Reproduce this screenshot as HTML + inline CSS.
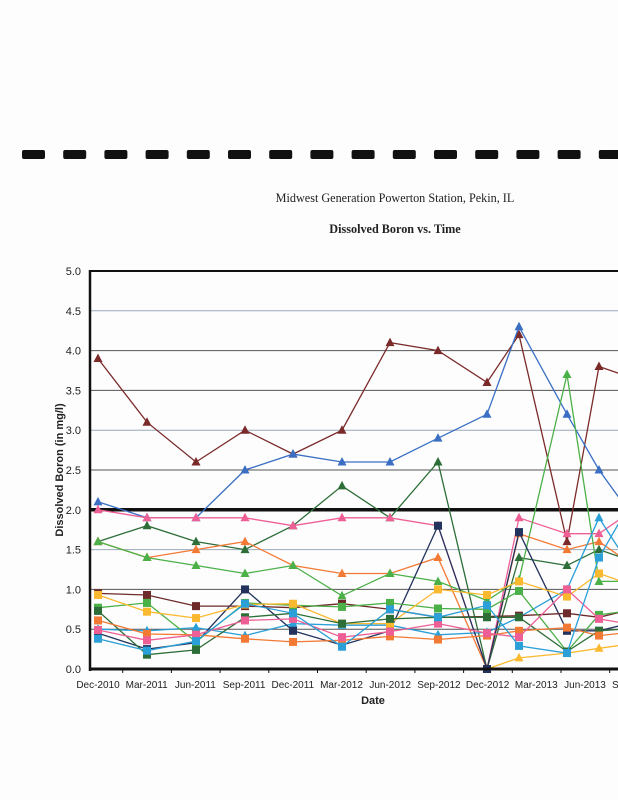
<!DOCTYPE html>
<html><head><meta charset="utf-8"><style>
html,body{margin:0;padding:0;background:#fff;width:618px;height:800px;overflow:hidden}
</style></head><body>
<svg id="s" width="618" height="800" xmlns="http://www.w3.org/2000/svg" style="position:absolute;left:0;top:0">
<rect width="618" height="800" fill="#fdfdfd"/>
<g id="dash" fill="#111"></g>
<text x="395" y="202" font-family="Liberation Serif, serif" font-size="12.2" text-anchor="middle" fill="#222">Midwest Generation Powerton Station, Pekin, IL</text>
<text x="395" y="233" font-family="Liberation Serif, serif" font-size="12.2" font-weight="bold" text-anchor="middle" fill="#222">Dissolved Boron vs. Time</text>
<g id="grid"></g>
<g id="series"></g>
<g id="axes"></g>
<text x="373" y="704" font-family="Liberation Sans, sans-serif" font-size="11" font-weight="bold" text-anchor="middle" fill="#222">Date</text>
<text transform="translate(63,470) rotate(-90)" font-family="Liberation Sans, sans-serif" font-size="11" font-weight="bold" text-anchor="middle" fill="#222">Dissolved Boron (in mg/l)</text>
</svg>
<script>
var NS="http://www.w3.org/2000/svg";
function el(p,t,a){var e=document.createElementNS(NS,t);for(var k in a)e.setAttribute(k,a[k]);document.getElementById(p).appendChild(e);return e;}
for(var i=0;i<15;i++){el("dash","rect",{x:22+i*41.2,y:150,width:23,height:9,rx:2});}
function Y(v){return 669-v*79.6;}
for(var k=1;k<=9;k++){var v=k*0.5;var c=(k==3||k==9||k==6)?"#9ab":"#555";
 if(k==4){el("grid","line",{x1:90,x2:618,y1:Y(v),y2:Y(v),stroke:"#111","stroke-width":3.5});}
 else el("grid","line",{x1:90,x2:618,y1:Y(v),y2:Y(v),stroke:c,"stroke-width":1});}
el("axes","line",{x1:90,x2:618,y1:Y(5),y2:Y(5),stroke:"#111","stroke-width":2});
el("axes","line",{x1:90,x2:90,y1:Y(5)-1,y2:Y(0)+2,stroke:"#111","stroke-width":2.5});
el("axes","line",{x1:90,x2:618,y1:Y(0),y2:Y(0),stroke:"#111","stroke-width":3});
for(var k=0;k<=10;k++){var t=el("axes","text",{x:81,y:Y(k*0.5)+4,"font-family":"Liberation Sans, sans-serif","font-size":"11","text-anchor":"end",fill:"#222"});t.textContent=(k*0.5).toFixed(1);}
var labs=["Dec-2010","Mar-2011","Jun-2011","Sep-2011","Dec-2011","Mar-2012","Jun-2012","Sep-2012","Dec-2012","Mar-2013","Jun-2013","Sep-2013"];
for(var i=0;i<labs.length;i++){var x=98+i*48.7;var t=el("axes","text",{x:x,y:688,"font-family":"Liberation Sans, sans-serif","font-size":"10","text-anchor":"middle",fill:"#222"});t.textContent=labs[i];
 if(i>0)el("axes","line",{x1:x-24,x2:x-24,y1:669,y2:673,stroke:"#111"});}
var X=[98,147,196,245,293,342,390,438,487,519,567,599,622];
var S=[
["#7b2a2a","t",[3.9,3.1,2.6,3.0,2.7,3.0,4.1,4.0,3.6,4.2,1.6,3.8,3.7]],
["#3a6fc4","t",[2.1,1.9,1.9,2.5,2.7,2.6,2.6,2.9,3.2,4.3,3.2,2.5,2.1]],
["#2d6e38","t",[1.6,1.8,1.6,1.5,1.8,2.3,1.9,2.6,0.0,1.4,1.3,1.5,1.4]],
["#ee5f95","t",[2.0,1.9,1.9,1.9,1.8,1.9,1.9,1.8,0.0,1.9,1.7,1.7,1.9]],
["#f37a35","t",[1.6,1.4,1.5,1.6,1.3,1.2,1.2,1.4,0.0,1.7,1.5,1.6,1.4]],
["#4cb048","t",[1.6,1.4,1.3,1.2,1.3,0.92,1.2,1.1,0.86,1.12,3.7,1.1,1.1]],
["#2a9fd8","t",[0.5,0.48,0.52,0.42,0.57,0.55,0.55,0.43,0.46,0.65,1.0,1.9,1.45]],
["#fbb930","t",[null,null,null,null,null,null,null,null,0.0,0.14,0.2,0.26,0.3]],
["#23335e","s",[0.45,0.25,0.33,1.0,0.48,0.3,0.48,1.8,0.0,1.72,0.48,0.48,0.55]],
["#6e2a2a","s",[0.95,0.93,0.79,0.79,0.77,0.82,0.75,0.65,0.66,0.67,0.7,0.65,0.72]],
["#4cb048","s",[0.77,0.83,0.34,0.83,0.8,0.78,0.83,0.76,0.75,0.98,0.22,0.68,0.72]],
["#fbb930","s",[0.93,0.72,0.64,0.81,0.82,0.57,0.57,1.0,0.93,1.1,0.91,1.2,1.1]],
["#2d6e38","s",[0.73,0.18,0.24,0.65,0.7,0.57,0.63,0.65,0.65,0.65,0.22,0.48,0.5]],
["#f37a35","s",[0.61,0.44,0.43,0.38,0.34,0.36,0.41,0.37,0.42,0.48,0.52,0.42,0.45]],
["#ee5f95","s",[0.49,0.36,0.43,0.61,0.63,0.4,0.47,0.57,0.45,0.4,1.0,0.63,0.58]],
["#2a9fd8","s",[0.38,0.23,0.35,0.82,0.7,0.28,0.75,0.65,0.8,0.29,0.2,1.4,1.9]]
];
S.forEach(function(s){var d="",st=true;
 s[2].forEach(function(v,i){if(v===null)return;d+=(st?"M":"L")+X[i]+","+Y(v).toFixed(1);st=false;});
 el("series","path",{d:d,fill:"none",stroke:s[0],"stroke-width":1.3});
 s[2].forEach(function(v,i){if(v===null||X[i]>614)return;var x=X[i],y=Y(v);
  if(s[1]=="s")el("series","rect",{x:x-4,y:y-4,width:8,height:8,fill:s[0]});
  else el("series","path",{d:"M"+x+","+(y-5)+"L"+(x+4.5)+","+(y+3.5)+"L"+(x-4.5)+","+(y+3.5)+"Z",fill:s[0]});});
});
</script>
</body></html>
